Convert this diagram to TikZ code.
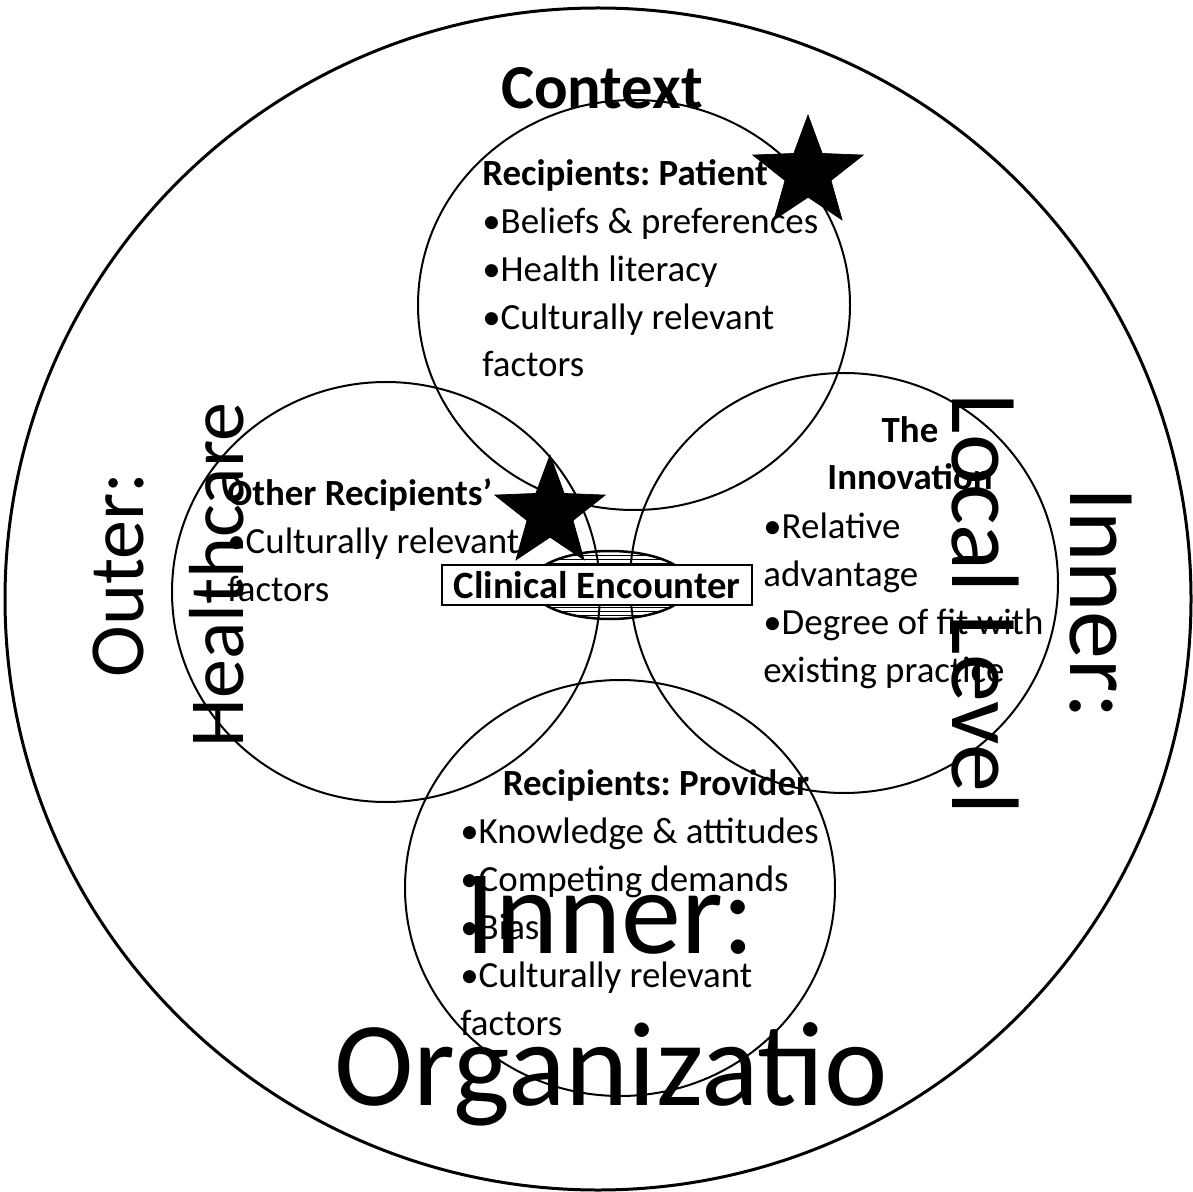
\documentclass[tikz,border=0pt]{standalone}
\usepackage{fontspec}
\setmainfont{Carlito}
\usetikzlibrary{shapes.geometric}
\frenchspacing

\begin{document}
\begin{tikzpicture}[x=0.02cm, y=-0.02cm,
    ring/.style={line width=0.04cm},
    body/.style={inner sep=0pt, font=\fontsize{21}{27.3}\selectfont},
    bodybold/.style={inner sep=0pt, font=\bfseries\fontsize{21}{27.3}\selectfont},
    badge/.style={star, star points=5, star point ratio=2.4, fill=black, draw=black,
        minimum size=2.32cm, inner sep=0pt},
    sidelabel/.style={inner sep=0pt, anchor=base, font=\fontsize{44.4}{53}\selectfont},
    locallabel/.style={inner sep=0pt, anchor=base, font=\fontsize{54.6}{66}\selectfont},
    orglabel/.style={inner sep=0pt, anchor=base, font=\fontsize{68.3}{82}\selectfont}]
    \useasboundingbox (0,0) rectangle (1193,1192);

    % outer ring and the four overlapping circles
    \draw[line width=0.06cm] (598,599) ellipse [x radius=593, y radius=591];
    \draw[ring] (634,305) ellipse [x radius=216, y radius=205];
    \draw[ring] (386,592) ellipse [x radius=214, y radius=210];
    \draw[ring] (844,583) ellipse [x radius=214, y radius=210];
    \draw[ring] (620,888) ellipse [x radius=215, y radius=208];

    % striped lens behind the encounter box
    \begin{scope}
        \clip (610,585) ellipse [x radius=80, y radius=34];
        \foreach \hy in {551,555,...,619}
            \draw[line width=0.02cm] (520,\hy) -- (700,\hy);
    \end{scope}
    \draw[line width=0.05cm] (610,585) ellipse [x radius=80, y radius=34];

    \node[draw, fill=white, line width=0.04cm, minimum width=6.22cm, minimum height=0.8cm,
        inner sep=0pt, font=\bfseries\fontsize{22}{26}\selectfont] (encounter) at (597,585) {Clinical Encounter};

    % stars
    \node[badge] (patientStar) at (808,173) {};
    \node[badge] (othersStar) at (550,513) {};

    % circle texts (multi-line nodes sit on their last baseline)
    \node[inner sep=0pt, anchor=base, font=\bfseries\fontsize{35.6}{40}\selectfont] (context) at (602,109) {Context};
    \node[body, anchor=base west, align=left] (patientText) at (482,377)
        {\textbf{Recipients: Patient}\\•Beliefs \& preferences\\•Health literacy\\•Culturally relevant\\factors};
    \node[body, anchor=base west, align=left] (othersText) at (227,601)
        {\textbf{Other Recipients’}\\•Culturally relevant\\factors};
    \node[bodybold, anchor=base, align=center] (innovationTitle) at (910,490) {The\\Innovation};
    \node[body, anchor=base west, align=left] (innovationText) at (763,682)
        {•Relative\\advantage\\•Degree of fit with\\existing practice};
    \node[bodybold, anchor=base] (providerTitle) at (656,795) {Recipients: Provider};
    \node[body, anchor=base west, align=left] (providerText) at (460,1035)
        {•Knowledge \& attitudes\\•Competing demands\\•Bias\\•Culturally relevant\\factors};

    % level labels
    \node[sidelabel, rotate=90] (outerA) at (143,575) {Outer:};
    \node[sidelabel, rotate=90] (outerB) at (243,575) {Healthcare};
    \node[locallabel, rotate=-90] (localA) at (1070,603) {Inner:};
    \node[locallabel, rotate=-90] (localB) at (952,604) {Local Level};
    \node[orglabel] (orgA) at (610,953) {Inner:};
    \node[orglabel] (orgB) at (611,1105) {Organizatio};
\end{tikzpicture}
\end{document}
